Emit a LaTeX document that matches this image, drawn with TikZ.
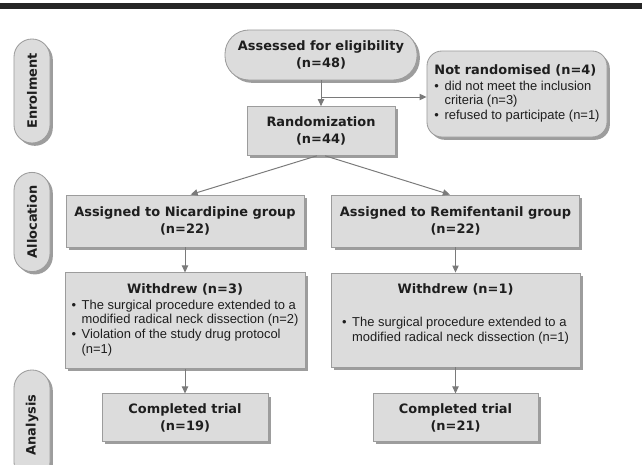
\documentclass[tikz,border=0pt]{standalone}
\usepackage{fontspec}
\usepackage{graphicx}
\setmainfont{Liberation Sans}
\newfontfamily\headfont{DejaVu Sans}
\usetikzlibrary{arrows.meta,shadows}

\definecolor{boxfill}{HTML}{DCDCDC}
\definecolor{boxline}{HTML}{9C9C9C}
\definecolor{arrowgray}{HTML}{7A7A7A}
\definecolor{textdark}{HTML}{1E1E1E}
\newcommand\bulletfont{\normalfont\fontsize{9.2}{10.4}\selectfont}

\tikzset{
  box/.style={draw=boxline, fill=boxfill, line width=0.6pt,
    drop shadow={shadow xshift=2pt, shadow yshift=-2pt, fill=black!70, opacity=0.55},
    font=\headfont\bfseries\fontsize{9.2}{12}\selectfont, text=textdark,
    align=center, inner sep=2pt},
  stage/.style={box, rounded corners=0.45cm, minimum width=0.9cm},
  arr/.style={draw=arrowgray, line width=0.7pt, -{Triangle[length=5pt,width=4.5pt]}}
}

\begin{document}
\begin{tikzpicture}[x=0.025cm,y=-0.025cm]
  \useasboundingbox (0,0) rectangle (642,465);
  % rule at the top
  \fill[black!85] (0,3) rectangle (642,9);
  % stages
  \node[stage, minimum height=2.6cm] (enrol) at (32,91) {\rotatebox{90}{Enrolment}};
  \node[stage, minimum height=2.48cm] (alloc) at (32,222) {\rotatebox{90}{Allocation}};
  \node[stage, minimum height=2.75cm] (analys) at (32,425) {\rotatebox{90}{Analysis}};
  % enrolment
  \node[box, rounded corners=0.6cm, minimum width=4.8cm, minimum height=1.25cm] (assess) at (321,55)
    {Assessed for eligibility\\(n=48)};
  \node[box, minimum width=3.7cm, minimum height=1.22cm] (rand) at (321,131)
    {Randomization\\(n=44)};
  \node[box, rounded corners=0.375cm, minimum width=4.5cm, minimum height=2.15cm, align=left] (notr) at (517,94)
    {Not randomised (n=4)\\[2pt]
     {\bulletfont\begin{tabular}{@{}l@{\hspace{4pt}}l@{}}
       \textbullet & did not meet the inclusion\\
                   & criteria (n=3)\\
       \textbullet & refused to participate (n=1)
     \end{tabular}}};
  % allocation
  \node[box, minimum width=5.95cm, minimum height=1.3cm] (nicar) at (185,221)
    {Assigned to Nicardipine group\\(n=22)};
  \node[box, minimum width=6.18cm, minimum height=1.3cm] (remi) at (455.5,221)
    {Assigned to Remifentanil group\\(n=22)};
  \node[box, minimum width=6cm, minimum height=2.38cm] (wdleft) at (185,320.5)
    {Withdrew (n=3)\\[2pt]
     {\bulletfont\begin{tabular}{@{}l@{\hspace{4pt}}l@{}}
       \textbullet & The surgical procedure extended to a\\
                   & modified radical neck dissection (n=2)\\
       \textbullet & Violation of the study drug protocol\\
                   & (n=1)
     \end{tabular}}};
  \node[box, minimum width=6.22cm, minimum height=2.35cm] (wdright) at (455.5,320)
    {Withdrew (n=1)\\[14pt]
     {\bulletfont\begin{tabular}{@{}l@{\hspace{4pt}}l@{}}
       \textbullet & The surgical procedure extended to a\\
                   & modified radical neck dissection (n=1)
     \end{tabular}}\\[4pt]};
  % analysis
  \node[box, minimum width=4.15cm, minimum height=1.18cm] (compleft) at (185,417.5)
    {Completed trial\\(n=19)};
  \node[box, minimum width=4.12cm, minimum height=1.18cm] (compright) at (455.5,417.5)
    {Completed trial\\(n=21)};
  % connectors
  \coordinate (split) at (321,97);
  \draw[arr] (assess) -- (rand);
  \draw[arr] (split) -- (split -| notr.west);
  \draw[arr] ([xshift=-3pt]rand.south) -- ([xshift=4pt]nicar.north);
  \draw[arr] ([xshift=3pt]rand.south) -- ([xshift=-4pt]remi.north);
  \draw[arr] (nicar) -- (wdleft);
  \draw[arr] (remi) -- (wdright);
  \draw[arr] (wdleft) -- (compleft);
  \draw[arr] (wdright) -- (compright);
\end{tikzpicture}
\end{document}
